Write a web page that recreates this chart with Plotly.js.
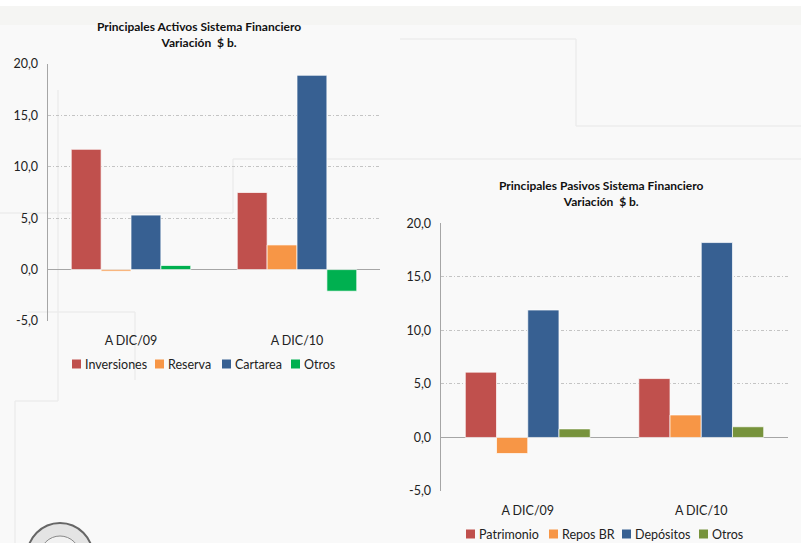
<!DOCTYPE html>
<html><head><meta charset="utf-8">
<script src="https://cdn.plot.ly/plotly-3.0.1.min.js"></script>
<style>html,body{margin:0;padding:0;background:#f9f9f9;overflow:hidden}#c{width:801px;height:543px}</style>
</head><body><div id="c"></div>
<script>
// ---- data ----
const categories = ["A DIC/09", "A DIC/10"];
const activosSeries = ["Inversiones", "Reserva", "Cartarea", "Otros"];
const inversiones = [11.7, 7.5];
const reserva = [-0.15, 2.4];
const cartarea = [5.3, 18.9];
const otrosActivos = [0.4, -2.1];
const pasivosSeries = ["Patrimonio", "Repos BR", "Depósitos", "Otros"];
const patrimonio = [6.1, 5.5];
const reposBR = [-1.5, 2.1];
const depositos = [11.9, 18.2];
const otrosPasivos = [0.8, 1.0];
const yTicks = [-5, 0, 5, 10, 15, 20];
const titleActivos = "Principales Activos Sistema Financiero<br>Variación  $ b.";
const titlePasivos = "Principales Pasivos Sistema Financiero<br>Variación  $ b.";

// ---- styling ----
const W = 801, H = 543;
const px = x => x / W, py = y => 1 - y / H;
const FONT = "Lato, 'Open Sans', sans-serif";
const colA = ["#C0504D", "#F79646", "#376092", "#00B050"];
const colP = ["#C0504D", "#F79646", "#376092", "#77933C"];
const lineSty = {color: "rgba(255,255,255,0.7)", width: 1};
const yTickText = yTicks.map(v => v.toFixed(1).replace(".", ","));

const activosVals = [inversiones, reserva, cartarea, otrosActivos];
const pasivosVals = [patrimonio, reposBR, depositos, otrosPasivos];

const traces = [];
activosSeries.forEach((n, i) => traces.push({
  type: "bar", name: n, x: categories, y: activosVals[i], xaxis: "x", yaxis: "y",
  marker: {color: colA[i], line: lineSty}, hoverinfo: "y+name"
}));
pasivosSeries.forEach((n, i) => traces.push({
  type: "bar", name: n, x: categories, y: pasivosVals[i], xaxis: "x2", yaxis: "y2",
  marker: {color: colP[i], line: lineSty}, hoverinfo: "y+name"
}));

const yax = (dom, anchor) => ({
  domain: dom, anchor: anchor, range: [-5, 20], tickvals: yTicks, ticktext: yTickText,
  showgrid: true, gridcolor: "#c4c4c4", griddash: "3px,2px,1px,2px", gridwidth: 1,
  zeroline: true, zerolinecolor: "#a6a6a6", zerolinewidth: 1.5,
  showline: true, linecolor: "#a6a6a6", linewidth: 1.5, ticks: "",
  tickfont: {family: FONT, size: 12.5, color: "#222"}, ticklabelstandoff: 6, fixedrange: true
});
const xax = (dom, anchor) => ({
  domain: dom, anchor: anchor, showgrid: false, zeroline: false, showline: false, ticks: "",
  tickfont: {family: FONT, size: 12.5, color: "#222"}, ticklabelstandoff: 10, fixedrange: true
});

const deco = (x0, y0, x1, y1) => ({type: "line", xref: "paper", yref: "paper",
  x0: px(x0), y0: py(y0), x1: px(x1), y1: py(y1), line: {color: "#ececec", width: 1.5}, layer: "below"});

// custom legends (marker square + label), positions in page pixels
const legA = {xs: [72, 155, 222, 291], y: 364, names: activosSeries, cols: colA};
const legP = {xs: [466, 549, 622, 699], y: 534, names: pasivosSeries, cols: colP};
const legShapes = [], legAnn = [];
[legA, legP].forEach(L => L.names.forEach((n, i) => {
  legShapes.push({type: "rect", xref: "paper", yref: "paper",
    x0: px(L.xs[i]), x1: px(L.xs[i] + 9), y0: py(L.y + 4.5), y1: py(L.y - 4.5),
    fillcolor: L.cols[i], line: {width: 0}});
  legAnn.push({text: n, xref: "paper", yref: "paper", x: px(L.xs[i] + 11), y: py(L.y),
    xanchor: "left", yanchor: "middle", showarrow: false,
    font: {family: FONT, size: 12.5, color: "#222"}});
}));

const layout = {
  width: W, height: H, margin: {l: 0, r: 0, t: 0, b: 0, autoexpand: false},
  paper_bgcolor: "#f9f9f9", plot_bgcolor: "rgba(0,0,0,0)",
  separators: ",.", barmode: "group", bargap: 0.28, bargroupgap: 0,
  showlegend: false,
  xaxis: xax([px(48), px(380)], "y"),
  yaxis: yax([py(321), py(64)], "x"),
  xaxis2: xax([px(441), px(788)], "y2"),
  yaxis2: yax([py(491), py(223.3)], "x2"),
  annotations: [
    {text: titleActivos, xref: "paper", yref: "paper", x: px(199), y: py(35), showarrow: false,
     xanchor: "center", yanchor: "middle", align: "center",
     font: {family: FONT, size: 12, color: "#111", weight: "bold"}},
    {text: titlePasivos, xref: "paper", yref: "paper", x: px(601), y: py(193), showarrow: false,
     xanchor: "center", yanchor: "middle", align: "center",
     font: {family: FONT, size: 12, color: "#111", weight: "bold"}}
  ].concat(legAnn),
  shapes: [
    {type: "rect", xref: "paper", yref: "paper", x0: 0, x1: 1, y0: py(6), y1: 1, fillcolor: "#ffffff", line: {width: 0}, layer: "below"},
    {type: "rect", xref: "paper", yref: "paper", x0: 0, x1: 1, y0: py(25), y1: py(6), fillcolor: "#f5f5f3", line: {width: 0}, layer: "below"},
    deco(400, 39, 576, 39), deco(576, 39, 576, 126), deco(576, 126, 801, 126),
    deco(233, 159, 801, 159), deco(233, 159, 233, 213), deco(0, 213, 233, 213),
    deco(58, 90, 58, 401), deco(15, 401, 58, 401), deco(15, 401, 15, 543),
    deco(28, 312, 135, 312), deco(135, 312, 135, 380),
    {type: "circle", xref: "paper", yref: "paper", x0: px(27), x1: px(93), y0: py(590), y1: py(523),
     line: {color: "#666", width: 2}, fillcolor: "#e4e4e4", layer: "above"},
    {type: "circle", xref: "paper", yref: "paper", x0: px(40), x1: px(80), y0: py(576), y1: py(536),
     line: {color: "#888", width: 1}, fillcolor: "#f2f2f2", layer: "above"}
  ].concat(legShapes)
};
Plotly.newPlot("c", traces, layout, {staticPlot: true, displayModeBar: false});
</script></body></html>
